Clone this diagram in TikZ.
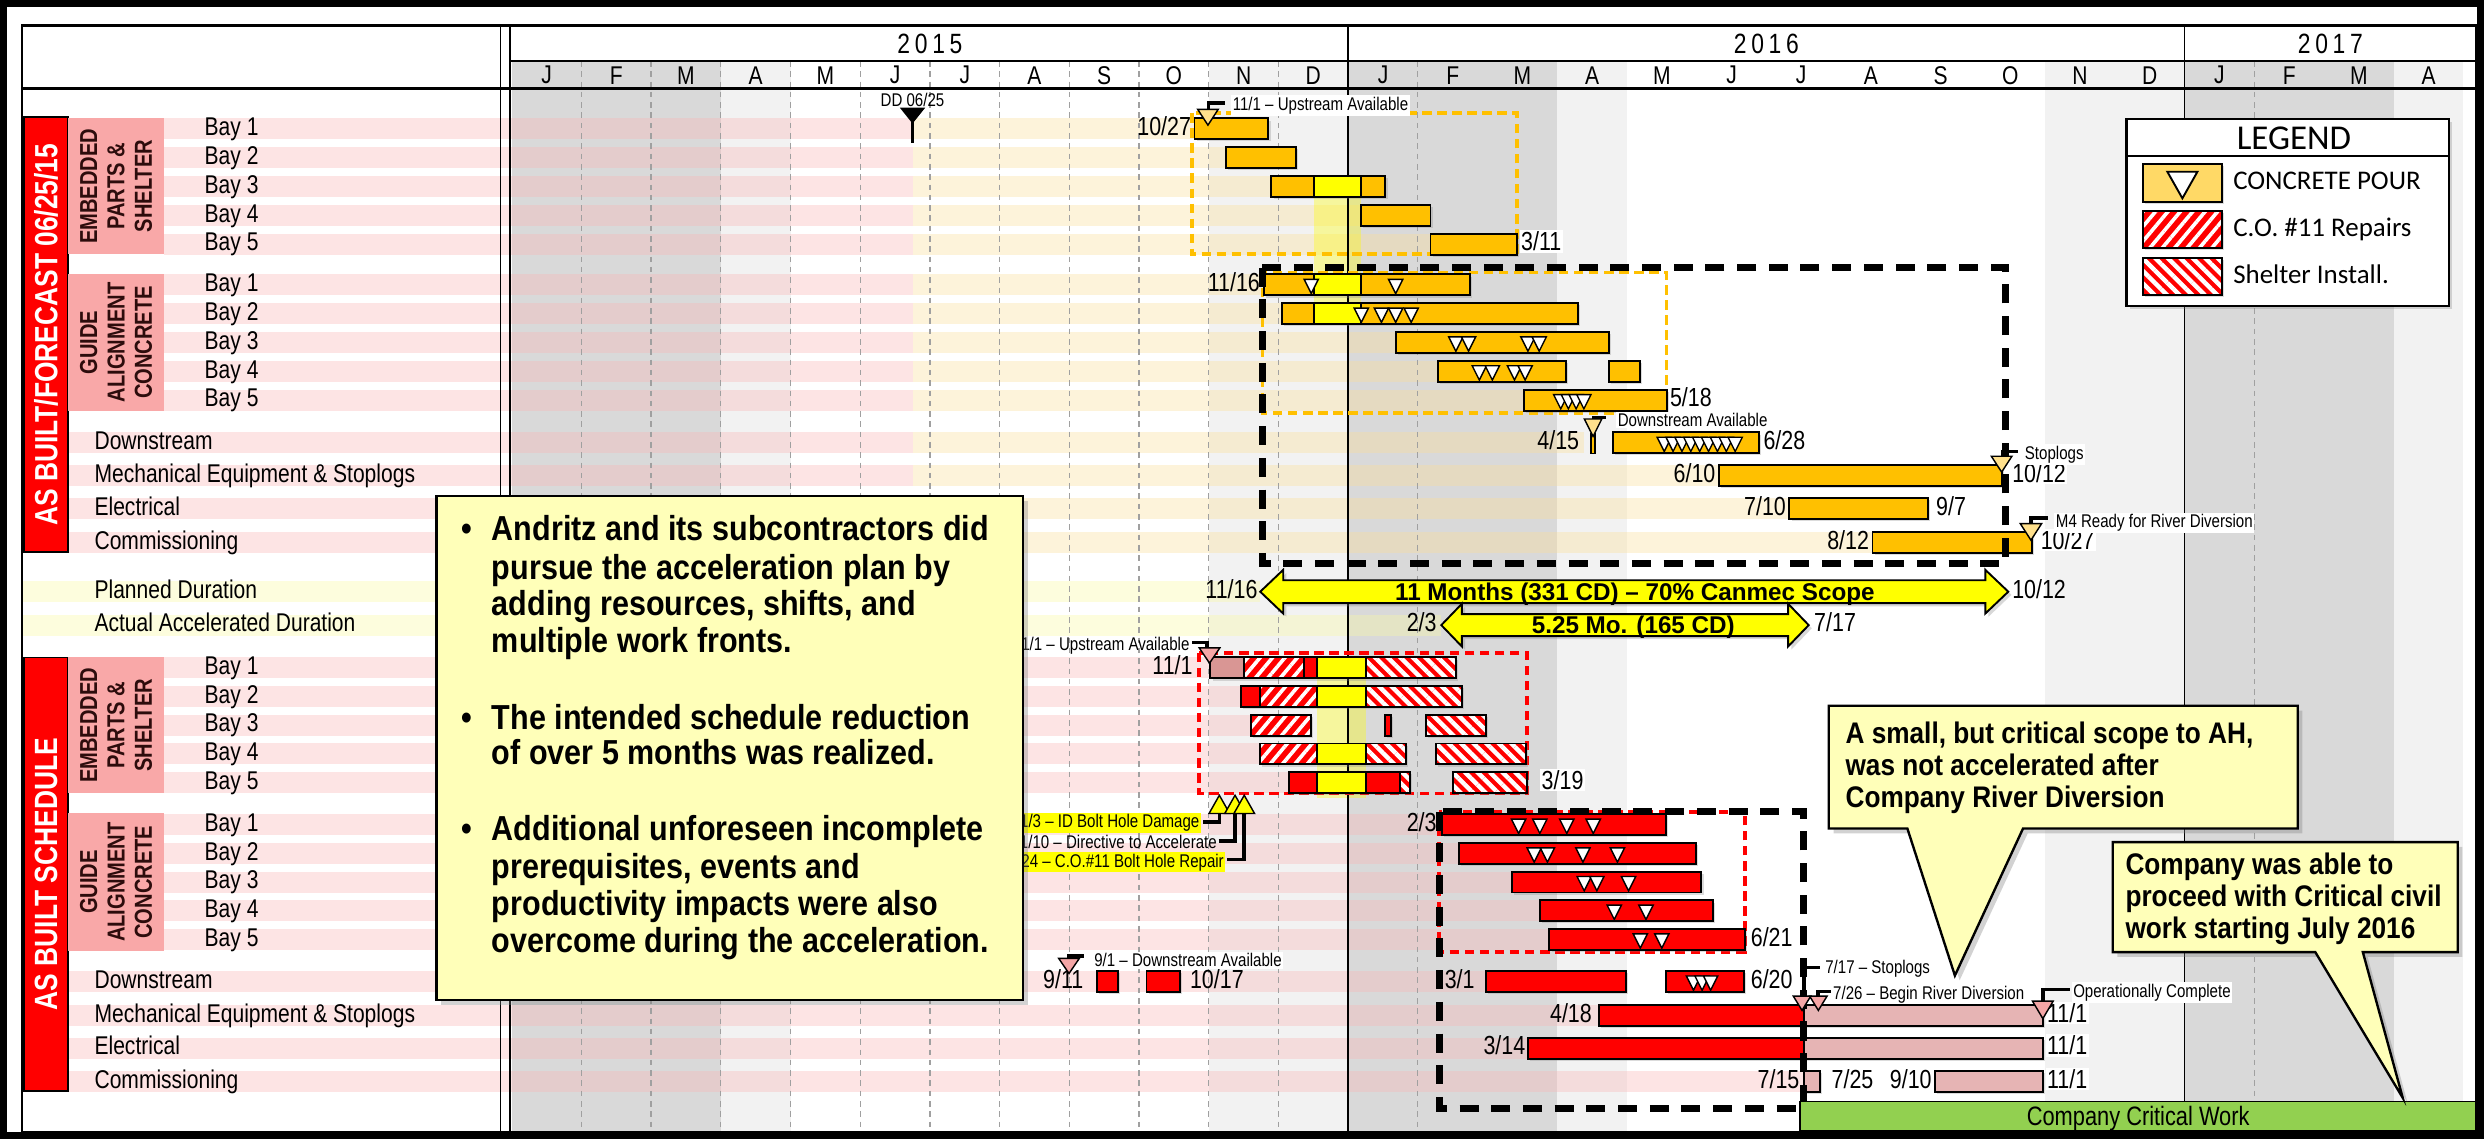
\documentclass[tikz,border=0pt]{standalone}
\usepackage{fontspec}
\setmainfont{Liberation Sans}[FakeStretch=0.82]
\newfontfamily\notefont{Liberation Sans}[FakeStretch=0.88]
\newfontfamily\widefont{Liberation Sans}
\newfontfamily\legendfont{Carlito}
\usetikzlibrary{shadows,patterns.meta}

\definecolor{gold}{RGB}{255,192,0}
\definecolor{swatchgold}{RGB}{255,217,102}
\definecolor{hiyel}{RGB}{255,255,0}
\definecolor{fcpink}{RGB}{230,180,180}
\definecolor{dustpink}{RGB}{217,150,148}
\definecolor{mspink}{RGB}{244,166,166}
\definecolor{mscream}{RGB}{255,224,140}
\definecolor{grpbox}{RGB}{249,168,168}
\definecolor{grptext}{RGB}{45,12,12}
\definecolor{shadedark}{RGB}{217,217,217}
\definecolor{shadelight}{RGB}{242,242,242}
\definecolor{gridc}{RGB}{160,160,160}
\definecolor{notefill}{RGB}{255,255,185}
\definecolor{critgreen}{RGB}{146,208,80}
\definecolor{bandpink}{RGB}{250,180,180}
\definecolor{bandcream}{RGB}{252,222,150}
\definecolor{bandyel}{RGB}{250,250,160}

\newcommand\fsz[1]{\fontsize{#1}{#1}\selectfont}
% horizontal row band: colour, x from, x to, row centre
\newcommand\rowband[4]{\fill[#1,opacity=.35] (#2,#4-6.6) rectangle (#3,#4+6.6);}
% one bar segment: style, x from, x to, row centre
\newcommand\seg[4]{\draw[bar,#1] (#2,#4-6.6) rectangle (#3,#4+6.6);}
% concrete pour mark inside a bar: x, row centre
\newcommand\pour[2]{\draw[pourtri] (#1-4.5,#2-3.5) -- (#1+4.5,#2-3.5) -- (#1,#2+5.5) -- cycle;}
% milestone triangle: fill, centre x, top y, height, width
\newcommand\milestone[5]{\draw[mstri,fill=#1] (#2-#5/2,#3) -- (#2+#5/2,#3) -- (#2,#3+#4) -- cycle;}

\tikzset{
  bar/.style={draw=black,line width=1.2pt,drop shadow={shadow xshift=1.4pt,shadow yshift=-1.4pt,opacity=.28}},
  cohatch/.style={preaction={fill=red},pattern={Lines[angle=50,distance=6pt,line width=2.3pt]},pattern color=white},
  shhatch/.style={preaction={fill=red},pattern={Lines[angle=-45,distance=5.6pt,line width=2.8pt]},pattern color=white},
  pourtri/.style={fill=white,draw=black,line width=0.9pt,line join=miter},
  mstri/.style={draw=black,line width=0.9pt,line join=miter},
  leader/.style={draw=black,line width=2.2pt},
  grid/.style={draw=gridc,line width=0.8pt,dash pattern=on 3.5pt off 3pt},
  blkbox/.style={draw=black,line width=4.5pt,dash pattern=on 12pt off 8pt},
  orgbox/.style={draw=gold,line width=2.3pt,dash pattern=on 6pt off 3.5pt},
  redbox/.style={draw=red,line width=2.3pt,dash pattern=on 6pt off 3.5pt},
  rowlab/.style={font=\fsz{16.2},inner sep=0pt,anchor=mid west,yshift=-1.6pt},
  datelab/.style={font=\fsz{16.5},inner sep=0pt,yshift=-1.65pt},
  tag/.style={font=\fsz{11.6},inner sep=0pt,anchor=mid west,yshift=-1.2pt},
  wbg/.style={fill=white,inner sep=1pt},
  month/.style={font=\fsz{16.2},inner sep=0pt},
  year/.style={font=\fsz{17.6},inner sep=0pt},
  section/.style={font=\bfseries\fsz{20.3},text=white,rotate=90,inner sep=0pt},
  group/.style={font=\bfseries\fontsize{15.5}{17.3}\selectfont,text=grptext,rotate=90,align=center,inner sep=0pt},
  notebox/.style={fill=notefill,draw=black,line width=1.5pt,line join=miter,drop shadow={shadow xshift=3pt,shadow yshift=-3pt,opacity=.35}},
  notetext/.style={font=\notefont\bfseries\fsz{21.9},inner sep=0pt,anchor=mid west,yshift=-2.2pt},
  calltext/.style={font=\notefont\bfseries\fsz{18.8},inner sep=0pt,anchor=mid west,yshift=-1.9pt},
  arrowshape/.style={fill=hiyel,draw=black,line width=1.2pt,line join=miter,drop shadow={shadow xshift=2pt,shadow yshift=-2pt,opacity=.3}},
  arrowtext/.style={font=\widefont\bfseries\fsz{15.3},inner sep=0pt,yshift=-1.5pt},
  legtext/.style={font=\legendfont\fsz{17},inner sep=0pt,anchor=mid west,yshift=-1.7pt},
}

\begin{document}
\begin{tikzpicture}[x=1pt,y=-1pt]
\useasboundingbox (0,0) rectangle (1568,719);
\fill[white] (0,0) rectangle (1568,719);

% ---------- month column shading ----------
\foreach \i/\c in {0/shadedark,1/shadedark,2/shadedark,3/shadelight,10/shadelight,11/shadelight,12/shadedark,13/shadedark,14/shadedark,15/shadelight,22/shadelight,23/shadelight,24/shadedark,25/shadedark,26/shadedark,27/shadelight}
  {\fill[\c] (323+44*\i,38.5) rectangle (367+44*\i,714.5);}

% ---------- row bands ----------
\foreach \y/\e in {81.3/754,99.5/774,117.7/802.5,135.9/859,154.1/903,179.8/797.7,198/809.4,216.2/881.3,234.4/907.8,252.6/962}
  {\rowband{bandpink}{103.6}{576}{\y}\rowband{bandcream}{576}{\e}{\y}}
\foreach \y/\e in {279.5/1000,300.2/1085,321/1129.5,342.6/1182}
  {\rowband{bandpink}{43}{576}{\y}\rowband{bandcream}{576}{\e}{\y}}
\rowband{bandyel}{14}{795.5}{373.5}
\rowband{bandyel}{14}{909.8}{394.6}
\foreach \y/\e in {421.6/764,439.7/783.5,457.8/789.8,475.9/795.3,494/813.8,520.6/910.4,538.7/921,556.8/954.5,574.9/972,593/978}
  {\rowband{bandpink}{103.6}{\e}{\y}}
\foreach \y/\e in {619.6/938,641/1009.3,661.6/964.6,682.6/1138.7}
  {\rowband{bandpink}{43}{\e}{\y}}

% holiday shutdown columns
\fill[hiyel,opacity=.35] (829.6,124) rectangle (859.3,205);
\fill[hiyel,opacity=.35] (831.6,428) rectangle (862.4,504);

% ---------- grid ----------
\foreach \i in {1,...,11,13,...,23,25,...,28}
  {\draw[grid] (323+44*\i,38.5) -- (323+44*\i,714.5);}
\draw[line width=1pt] (851,16) -- (851,714.5) (1379,16) -- (1379,714.5);
\draw[line width=1pt] (316,16) -- (316,714.5) (322,16) -- (322,714.5);
\draw[line width=1.6pt] (322,38.5) -- (1563,38.5);
\draw[line width=1.6pt] (14,56) -- (1563,56);

% ---------- header ----------
\foreach \m [count=\i from 0] in {J,F,M,A,M,J,J,A,S,O,N,D,J,F,M,A,M,J,J,A,S,O,N,D,J,F,M,A}
  {\node[month] (mon\i) at (345+44*\i,47.5) {\m};}
\node[year] (y2015) at (587,27.5) {2\kern3pt0\kern3pt1\kern3pt5};
\node[year] (y2016) at (1115,27.5) {2\kern3pt0\kern3pt1\kern3pt6};
\node[year] (y2017) at (1471,27.5) {2\kern3pt0\kern3pt1\kern3pt7};

% data date
\node[tag,anchor=mid] (dd) at (576,63.5) {DD 06/25};
\fill[black] (568,68) -- (584,68) -- (576,78) -- cycle;
\draw[line width=1.6pt] (576,77) -- (576,90);

% ---------- left labels ----------
\draw[fill=red,line width=1pt] (15,74) rectangle (43,348.5);
\node[section] (secA) at (29,211.3) {AS BUILT/FORECAST 06/25/15};
\draw[fill=red,line width=1pt] (15,415) rectangle (43,688.6);
\node[section] (secB) at (29,551.8) {AS BUILT SCHEDULE};
\fill[grpbox] (43,74.5) rectangle (103.6,160.5);
\fill[grpbox] (43,173) rectangle (103.6,259.3);
\fill[grpbox] (43,415) rectangle (103.6,500.5);
\fill[grpbox] (43,513.5) rectangle (103.6,600);
\node[group] (grpA1) at (73.3,117.5) {EMBEDDED\\PARTS \&\\SHELTER};
\node[group] (grpA2) at (73.3,216.2) {GUIDE\\ALIGNMENT\\CONCRETE};
\node[group] (grpB1) at (73.3,457.8) {EMBEDDED\\PARTS \&\\SHELTER};
\node[group] (grpB2) at (73.3,556.8) {GUIDE\\ALIGNMENT\\CONCRETE};

\foreach \y [count=\k] in {81.3,99.5,117.7,135.9,154.1} {\node[rowlab] (ua\k) at (129,\y) {Bay \k};}
\foreach \y [count=\k] in {179.8,198,216.2,234.4,252.6} {\node[rowlab] (ub\k) at (129,\y) {Bay \k};}
\foreach \y [count=\k] in {421.6,439.7,457.8,475.9,494} {\node[rowlab] (la\k) at (129,\y) {Bay \k};}
\foreach \y [count=\k] in {520.6,538.7,556.8,574.9,593} {\node[rowlab] (lb\k) at (129,\y) {Bay \k};}
\foreach \y/\t [count=\k] in {279.5/Downstream,300.2/Mechanical Equipment \& Stoplogs,321/Electrical,342.6/Commissioning,373.5/Planned Duration,394.6/Actual Accelerated Duration}
  {\node[rowlab] (uc\k) at (59.5,\y) {\t};}
\foreach \y/\t [count=\k] in {619.6/Downstream,641/Mechanical Equipment \& Stoplogs,661.6/Electrical,682.6/Commissioning}
  {\node[rowlab] (lc\k) at (59.5,\y) {\t};}

% ---------- coloured dashed groups (behind bars) ----------
\draw[orgbox] (752.5,71.5) rectangle (957.6,160.5);
\draw[orgbox] (797,172) rectangle (1052,260.5);
\draw[redbox] (757,412) rectangle (964,500.8);
\draw[redbox] (908.5,512.4) rectangle (1101.3,600.8);

% ---------- forecast bars ----------
\seg{fill=gold}{754}{800.6}{81.3}
\seg{fill=gold}{774}{818}{99.5}
\seg{fill=gold}{802.5}{829.6}{117.7}\seg{fill=hiyel}{829.6}{859.3}{117.7}\seg{fill=gold}{859.3}{874.5}{117.7}
\seg{fill=gold}{859}{903}{135.9}
\seg{fill=gold}{903}{957.6}{154.1}
\seg{fill=gold}{797.7}{829.6}{179.8}\seg{fill=hiyel}{829.6}{859.3}{179.8}\seg{fill=gold}{859.3}{928}{179.8}
\seg{fill=gold}{809.4}{829.6}{198}\seg{fill=hiyel}{829.6}{859.3}{198}\seg{fill=gold}{859.3}{996}{198}
\seg{fill=gold}{881.3}{1015.7}{216.2}
\seg{fill=gold}{907.8}{988.4}{234.4}\seg{fill=gold}{1015.7}{1035.3}{234.4}
\seg{fill=gold}{962}{1052}{252.6}
\seg{fill=gold}{1018}{1110.5}{279.5}
\seg{fill=gold}{1085}{1263.6}{300.2}
\seg{fill=gold}{1129.5}{1217}{321}
\seg{fill=gold}{1182}{1282.5}{342.6}
\draw[fill=gold,line width=0.7pt] (1004.3,273.4) rectangle (1006.8,286);

\foreach \x in {827.7,881} {\pour{\x}{179.8}}
\foreach \x in {859.3,872,881,890.8} {\pour{\x}{198}}
\foreach \x in {919,927,964.5,971.6} {\pour{\x}{216.2}}
\foreach \x in {933.8,942,956,962.7} {\pour{\x}{234.4}}
\foreach \x in {985.2,990,994.9,999.8} {\pour{\x}{252.6}}
\foreach \k in {0,...,8} {\pour{1050.5+5.6*\k}{279.5}}

% ---------- as-built bars ----------
\seg{fill=dustpink}{764}{785.3}{421.6}\seg{cohatch}{785.3}{823.2}{421.6}\seg{fill=red}{823.2}{831.6}{421.6}\seg{fill=hiyel}{831.6}{862.4}{421.6}\seg{shhatch}{862.4}{919}{421.6}
\seg{fill=red}{783.5}{795.3}{439.7}\seg{cohatch}{795.3}{831.6}{439.7}\seg{fill=hiyel}{831.6}{862.4}{439.7}\seg{shhatch}{862.4}{922.8}{439.7}
\seg{cohatch}{789.8}{827.7}{457.8}\seg{fill=red}{874.4}{878}{457.8}\seg{shhatch}{900.3}{938}{457.8}
\seg{cohatch}{795.3}{831.6}{475.9}\seg{fill=hiyel}{831.6}{862.4}{475.9}\seg{shhatch}{862.4}{887.4}{475.9}\seg{shhatch}{906.6}{963}{475.9}
\seg{fill=red}{813.8}{831.6}{494}\seg{fill=hiyel}{831.6}{862.4}{494}\seg{fill=red}{862.4}{884}{494}\seg{shhatch}{884}{890}{494}\seg{shhatch}{917.3}{964}{494}

\seg{fill=red}{910.4}{1051.7}{520.6}
\seg{fill=red}{921}{1070.6}{538.7}
\seg{fill=red}{954.5}{1074}{556.8}
\seg{fill=red}{972}{1081.4}{574.9}
\seg{fill=red}{978}{1101.3}{593}
\seg{fill=red}{692.2}{705.6}{619.6}\seg{fill=red}{723.7}{744.8}{619.6}
\seg{fill=red}{938}{1026.3}{619.6}\seg{fill=red}{1051.7}{1100.6}{619.6}
\seg{fill=red}{1009.3}{1138.7}{641}\seg{fill=fcpink}{1138.7}{1289.5}{641}
\seg{fill=red}{964.6}{1138.7}{661.6}\seg{fill=fcpink}{1138.7}{1289.5}{661.6}
\seg{fill=fcpink}{1138.7}{1148.9}{682.6}\seg{fill=fcpink}{1221.6}{1289.5}{682.6}

\foreach \x in {958.6,972,989,1005.7} {\pour{\x}{520.6}}
\foreach \x in {968.4,976.8,999.2,1021} {\pour{\x}{538.7}}
\foreach \x in {1000,1008,1028} {\pour{\x}{556.8}}
\foreach \x in {1019,1039} {\pour{\x}{574.9}}
\foreach \x in {1035.4,1049} {\pour{\x}{593}}
\foreach \x in {1069,1074.4,1079.8} {\pour{\x}{619.6}}

% ---------- duration arrows ----------
\draw[arrowshape] (795.5,373.5) -- (810,359.7) -- (810,366.3) -- (1253.2,366.3) -- (1253.2,359.7) -- (1267.7,373.5) -- (1253.2,387.3) -- (1253.2,380.7) -- (810,380.7) -- (810,387.3) -- cycle;
\node[arrowtext] (plantext) at (1032,373.5) {11 Months (331 CD) – 70\% Canmec Scope};
\draw[arrowshape] (909.8,394.6) -- (922.8,381.1) -- (922.8,387.7) -- (1128.7,387.7) -- (1128.7,381.1) -- (1141.7,394.6) -- (1128.7,408.1) -- (1128.7,401.5) -- (922.8,401.5) -- (922.8,408.1) -- cycle;
\node[arrowtext] (acttext) at (1031,394.6) {5.25 Mo. (165 CD)};

% ---------- date labels ----------
\node[datelab,anchor=mid east] (d1) at (752,81.3) {10/27};
\node[datelab,anchor=mid west,wbg] (d2) at (959,154.1) {3/11};
\node[datelab,anchor=mid east] (d3) at (795.5,179.8) {11/16};
\node[datelab,anchor=mid west] (d4) at (1054,252.6) {5/18};
\node[datelab,anchor=mid east] (d5) at (997,279.5) {4/15};
\node[datelab,anchor=mid west] (d6) at (1113,279.5) {6/28};
\node[datelab,anchor=mid east] (d7) at (1083,300.2) {6/10};
\node[datelab,anchor=mid west,wbg] (d8) at (1269,300.2) {10/12};
\node[datelab,anchor=mid east] (d9) at (1127.5,321) {7/10};
\node[datelab,anchor=mid west,wbg] (d10) at (1221,321) {9/7};
\node[datelab,anchor=mid east] (d11) at (1180,342.6) {8/12};
\node[datelab,anchor=mid west,wbg] (d12) at (1287,342.6) {10/27};
\node[datelab,anchor=mid east] (d13) at (794,373.5) {11/16};
\node[datelab,anchor=mid west] (d14) at (1270,373.5) {10/12};
\node[datelab,anchor=mid east] (d15) at (907,394.6) {2/3};
\node[datelab,anchor=mid west] (d16) at (1145,394.6) {7/17};
\node[datelab,anchor=mid east] (d17) at (753,421.6) {11/1};
\node[datelab,anchor=mid west,wbg] (d18) at (972,494) {3/19};
\node[datelab,anchor=mid east] (d19) at (907,520.6) {2/3};
\node[datelab,anchor=mid west] (d20) at (1105,593) {6/21};
\node[datelab,anchor=mid east] (d21) at (684,619.6) {9/11};
\node[datelab,anchor=mid west] (d22) at (751,619.6) {10/17};
\node[datelab,anchor=mid east] (d23) at (931,619.6) {3/1};
\node[datelab,anchor=mid west] (d24) at (1105,619.6) {6/20};
\node[datelab,anchor=mid east] (d25) at (1005,641) {4/18};
\node[datelab,anchor=mid west,wbg] (d26) at (1291,641) {11/1};
\node[datelab,anchor=mid east] (d27) at (963,661.6) {3/14};
\node[datelab,anchor=mid west,wbg] (d28) at (1291,661.6) {11/1};
\node[datelab,anchor=mid east] (d29) at (1136,682.6) {7/15};
\node[datelab,anchor=mid west] (d30) at (1156,682.6) {7/25};
\node[datelab,anchor=mid east] (d31) at (1219.5,682.6) {9/10};
\node[datelab,anchor=mid west,wbg] (d32) at (1291,682.6) {11/1};

% ---------- black dashed focus boxes ----------
\draw[blkbox] (796.7,169) rectangle (1266,355.6);
\draw[blkbox] (908.5,512.4) rectangle (1138.7,699.5);

% ---------- milestones with leaders ----------
\node[tag,wbg] (t1) at (777,65.8) {11/1 – Upstream Available};
\draw[leader] (763,70) -- (763,65) -- (773,65);
\milestone{mscream}{762.5}{69}{10}{13}
\node[tag,wbg] (t2) at (1020,265.5) {Downstream Available};
\draw[leader] (1006,266) -- (1006,263.5) -- (1014,263.5);
\milestone{mscream}{1005.6}{264.5}{11}{11}
\node[tag,wbg] (t3) at (1277,286) {Stoplogs};
\draw[leader] (1264,290) -- (1264,285) -- (1274,285);
\milestone{mscream}{1263.5}{288}{10}{13}
\node[tag,wbg] (t4) at (1296.6,329.3) {M4 Ready for River Diversion};
\draw[leader] (1282,331) -- (1282,327) -- (1292.5,327);
\milestone{mscream}{1282}{330.5}{10.5}{13.5}

\node[tag,anchor=mid east] (t5) at (751,406.6) {11/1 – Upstream Available};
\draw[leader] (762,410) -- (762,405.7) -- (752.5,405.7);
\milestone{mspink}{763.5}{409}{9.6}{13}

\node[tag,anchor=mid east,fill=hiyel,inner sep=1pt] (t6) at (758.3,518.8) {11/3 – ID Bolt Hole Damage};
\node[tag,anchor=mid east] (t7) at (768.3,531.6) {11/10 – Directive to Accelerate};
\node[tag,anchor=mid east,fill=hiyel,inner sep=1pt] (t8) at (773.7,543.5) {11/24 – C.O.\#11 Bolt Hole Repair};
\draw[leader] (759.5,519) -- (769.7,519) -- (769.7,512);
\draw[leader] (769.3,531) -- (779.6,531) -- (779.6,512);
\draw[leader] (774.7,542.5) -- (785.4,542.5) -- (785.4,512);
\foreach \x in {769.7,779.6,785.4}
  {\draw[mstri,fill=hiyel] (\x-6.5,513.5) -- (\x+6.5,513.5) -- (\x,502) -- cycle;}

\node[tag,wbg] (t9) at (689.6,606.5) {9/1 – Downstream Available};
\draw[leader] (674.8,606) -- (674.8,603.5) -- (684,603.5);
\milestone{mspink}{674.8}{605}{9.5}{13}

\node[tag] (t10) at (1152,610.8) {7/17 – Stoplogs};
\draw[leader] (1138.7,630) -- (1138.7,610.6) -- (1149,610.6);
\node[tag] (t11) at (1157,627) {7/26 – Begin River Diversion};
\draw[leader] (1147.5,630) -- (1147.5,626) -- (1156,626);
\milestone{mspink}{1137.5}{628.8}{9}{11}
\milestone{mspink}{1147.8}{628.8}{9}{11}
\node[tag,wbg] (t12) at (1307.5,625.7) {Operationally Complete};
\draw[leader] (1289.5,633) -- (1289.5,624.7) -- (1306.8,624.7);
\milestone{mspink}{1289.5}{632}{11}{13}

% ---------- critical work bar ----------
\draw[fill=critgreen,line width=1.2pt] (1136.4,695.3) rectangle (1563,714);
\node[font=\fsz{16.8},inner sep=0pt,yshift=-1.7pt] (crit) at (1349.7,704.6) {Company Critical Work};

% ---------- legend ----------
\draw[fill=white,line width=1.5pt,drop shadow={shadow xshift=2pt,shadow yshift=-2pt,opacity=.3}] (1342.4,75.3) rectangle (1546,193.2);
\draw[line width=1.2pt] (1342.4,98.5) -- (1546,98.5);
\node[font=\legendfont\fsz{22},inner sep=0pt] (legtitle) at (1448,87.5) {LEGEND};
\draw[bar,fill=swatchgold] (1352.8,103.5) rectangle (1402.5,127.3);
\draw[pourtri,line width=1.2pt] (1368.1,108.4) -- (1387.1,108.4) -- (1377.6,125.2) -- cycle;
\draw[bar,cohatch] (1352.8,133.2) rectangle (1402.5,156.6);
\draw[bar,shhatch] (1352.8,163) rectangle (1402.5,186);
\node[legtext] (leg1) at (1409.5,115.4) {CONCRETE POUR};
\node[legtext] (leg2) at (1409.5,145) {C.O. \#11 Repairs};
\node[legtext] (leg3) at (1409.5,174.5) {Shelter Install.};

% ---------- callouts ----------
\draw[notebox] (275.6,313) rectangle (645.7,631.3);
\foreach \y [count=\k] in {336.6,455.6,526} {\node[notetext] (bul\k) at (291.4,\y) {•};}
\node[notetext] (n1) at (310.3,336.6) {Andritz and its subcontractors did};
\node[notetext] (n2) at (310.3,361) {pursue the acceleration plan by};
\node[notetext] (n3) at (310.3,384) {adding resources, shifts, and};
\node[notetext] (n4) at (310.3,407.2) {multiple work fronts.};
\node[notetext] (n5) at (310.3,455.6) {The intended schedule reduction};
\node[notetext] (n6) at (310.3,478) {of over 5 months was realized.};
\node[notetext] (n7) at (310.3,526) {Additional unforeseen incomplete};
\node[notetext] (n8) at (310.3,549.4) {prerequisites, events and};
\node[notetext] (n9) at (310.3,573) {productivity impacts were also};
\node[notetext] (n10) at (310.3,596.7) {overcome during the acceleration.};

\draw[notebox] (1154.4,445.5) -- (1450.4,445.5) -- (1450.4,523) -- (1277,523) -- (1234,615.8) -- (1204,523) -- (1154.4,523) -- cycle;
\node[calltext] (c1) at (1164.8,465) {A small, but critical scope to AH,};
\node[calltext] (c2) at (1164.8,485) {was not accelerated after};
\node[calltext] (c3) at (1164.8,505) {Company River Diversion};

\draw[notebox] (1333.6,531.6) -- (1551.4,531.6) -- (1551.4,601) -- (1491.5,601) -- (1516.7,693) -- (1461.5,601) -- (1333.6,601) -- cycle;
\node[calltext] (c4) at (1341.5,547.4) {Company was able to};
\node[calltext] (c5) at (1341.5,567.6) {proceed with Critical civil};
\node[calltext] (c6) at (1341.5,587.6) {work starting July 2016};

% ---------- frames ----------
\draw[line width=1.6pt] (14,16) rectangle (1563,714.5);
\draw[line width=4.5pt] (2.25,2.25) rectangle (1565.75,716.75);
\end{tikzpicture}
\end{document}
